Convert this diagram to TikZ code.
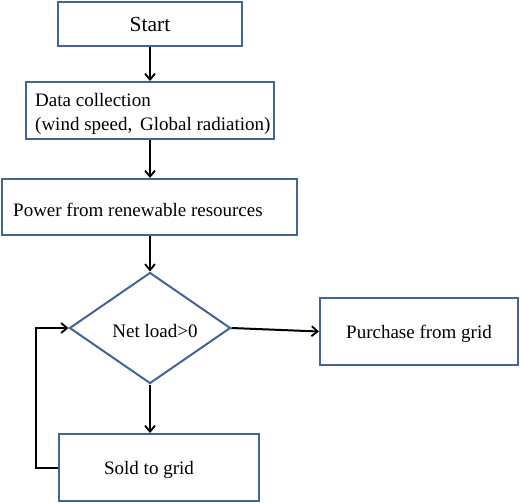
\documentclass[tikz,border=0pt]{standalone}
\usepackage{fontspec}
\setmainfont{Liberation Serif}
\usetikzlibrary{arrows.meta,shapes.geometric}
\definecolor{boxblue}{HTML}{41659A}
\tikzset{
  box/.style={draw=boxblue, line width=2pt, rectangle, inner sep=0pt, font=\fontsize{19}{23}\selectfont},
  arr/.style={draw=black, line width=2pt, -{Straight Barb[length=6pt,width=10pt,line width=1.8pt]}},
  lbl/.style={font=\fontsize{19}{24}\selectfont, inner sep=0pt},
}
\begin{document}
\begin{tikzpicture}[x=1pt,y=-1pt]
\useasboundingbox (0,0) rectangle (520,503);
\node[box, minimum width=184pt, minimum height=44pt, font=\fontsize{21.5}{25}\selectfont] (start) at (150,24) {Start};
\node[box, minimum width=248pt, minimum height=57pt] (data) at (150,110.5) {};
\node[lbl, anchor=west, align=left] (datalbl) at (35,114) {Data collection\\(wind speed,\, Global radiation)};
\node[box, minimum width=295pt, minimum height=56pt] (power) at (149.5,207) {};
\node[lbl, anchor=west] (powerlbl) at (13,210) {Power from renewable resources};
\node[draw=boxblue, line width=2pt, diamond, minimum width=161pt, minimum height=111pt, inner sep=0pt] (dia) at (150,328) {};
\node[lbl] (dialbl) at (155,331) {Net load>0};
\node[box, minimum width=198pt, minimum height=67pt, text depth=0pt] (purch) at (419,331.5) {Purchase from grid};
\node[box, minimum width=200pt, minimum height=67pt] (sold) at (159,467.5) {};
\node[lbl] (soldlbl) at (149,470) {Sold to grid};
\draw[arr] (start.south) -- (start.south |- data.north);
\draw[arr] (data.south) -- (data.south |- power.north);
\draw[arr] (start.south |- power.south) -- (dia.north);
\draw[arr] (dia.south) -- (dia.south |- sold.north);
\draw[arr] (dia.east) -- (purch.west);
\draw[arr] (sold.west) -- ++(-22,0) |- (dia.west);
\end{tikzpicture}
\end{document}
